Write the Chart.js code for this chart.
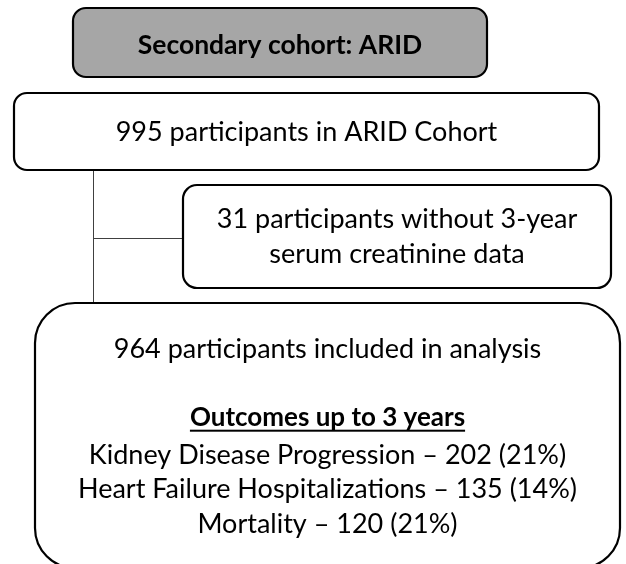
<!DOCTYPE html>
<html>
<head>
<meta charset="utf-8">
<script src="https://cdn.jsdelivr.net/npm/chart.js@4"></script>
<style>
  html, body { margin: 0; padding: 0; background: #ffffff; }
  #wrap { width: 626px; height: 564px; }
</style>
</head>
<body>
<div id="wrap"><canvas id="c" width="626" height="564"></canvas></div>
<script>
// ---- data ----
const cohortName = 'ARID';
const cohortTotal = [995];
const excludedCount = [31];
const includedCount = [964];
const outcomeLabels = ['Kidney Disease Progression', 'Heart Failure Hospitalizations', 'Mortality'];
const outcomeCounts = [202, 135, 120];
const outcomePercents = [21, 14, 21];

// ---- layout (page coordinates, mapped through the chart's own scales) ----
const boxes = [
  { x0: 73, y0: 8, x1: 487, y1: 77, r: 13, fill: '#a6a6a6',
    lines: [{ text: 'Secondary cohort: ' + cohortName, y: 45, bold: true, size: 26.5 }] },
  { x0: 14, y0: 93, x1: 599, y1: 170, r: 13, fill: '#ffffff',
    lines: [{ text: cohortTotal[0] + ' participants in ' + cohortName + ' Cohort', y: 132, size: 27 }] },
  { x0: 183, y0: 185, x1: 611, y1: 288, r: 14, fill: '#ffffff',
    lines: [{ text: excludedCount[0] + ' participants without 3-year', y: 219, size: 27 },
            { text: 'serum creatinine data', y: 254, size: 27 }] },
  { x0: 35, y0: 303, x1: 620, y1: 568, r: 40, fill: '#ffffff',
    lines: [{ text: includedCount[0] + ' participants included in analysis', y: 349, size: 27 },
            { text: 'Outcomes up to 3 years', y: 418, bold: true, underline: true, size: 26 },
            ...outcomeLabels.map((l, i) => ({
              text: l + ' \u2013 ' + outcomeCounts[i] + ' (' + outcomePercents[i] + '%)',
              y: 455 + i * 34.5, size: 27 }))] }
];
const connectors = [
  [[93, 170], [93, 303]],
  [[93, 238], [183, 238]]
];

const FONT = 'Lato, "Open Sans", sans-serif';

const flowPlugin = {
  id: 'flow',
  afterDraw(chart) {
    const { ctx, scales } = chart;
    const X = v => scales.x.getPixelForValue(v);
    const Y = v => scales.y.getPixelForValue(v);
    ctx.save();
    // connectors
    ctx.strokeStyle = '#404040';
    ctx.lineWidth = 1;
    connectors.forEach(seg => {
      ctx.beginPath();
      ctx.moveTo(Math.round(X(seg[0][0])) + 0.5, Math.round(Y(seg[0][1])) + 0.5);
      ctx.lineTo(Math.round(X(seg[1][0])) + 0.5, Math.round(Y(seg[1][1])) + 0.5);
      ctx.stroke();
    });
    // boxes
    boxes.forEach(b => {
      const x0 = X(b.x0), x1 = X(b.x1), y0 = Y(b.y0), y1 = Y(b.y1);
      ctx.beginPath();
      ctx.roundRect(x0, y0, x1 - x0, y1 - y0, b.r);
      ctx.fillStyle = b.fill;
      ctx.fill();
      ctx.lineWidth = 2.2;
      ctx.strokeStyle = '#000000';
      ctx.stroke();
      const cx = (x0 + x1) / 2;
      b.lines.forEach(l => {
        ctx.font = (l.bold ? 'bold ' : '') + l.size + 'px ' + FONT;
        ctx.fillStyle = '#000000';
        ctx.textAlign = 'center';
        ctx.textBaseline = 'middle';
        const ty = Y(l.y);
        ctx.fillText(l.text, cx, ty);
        if (l.underline) {
          const w = ctx.measureText(l.text).width;
          ctx.fillRect(cx - w / 2, ty + l.size * 0.45, w, 2);
        }
      });
    });
    ctx.restore();
  }
};

new Chart(document.getElementById('c'), {
  type: 'scatter',
  data: { datasets: [{ data: [], pointRadius: 0 }] },
  options: {
    responsive: false,
    animation: false,
    devicePixelRatio: 1,
    layout: { padding: 0 },
    plugins: { legend: { display: false }, tooltip: { enabled: false } },
    scales: {
      x: { type: 'linear', min: 0, max: 626, display: false },
      y: { type: 'linear', min: 0, max: 564, reverse: true, display: false }
    }
  },
  plugins: [flowPlugin]
});
</script>
</body>
</html>
